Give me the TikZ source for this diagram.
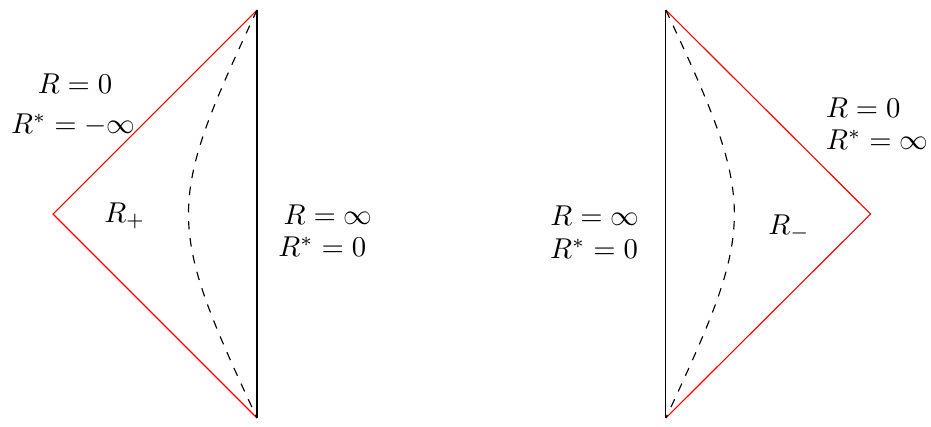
\documentclass[tikz,border=0pt]{standalone}
\usepackage{amsmath,amssymb}
\usepackage{tikz}
\usetikzlibrary{positioning}

\begin{document}
\begin{tikzpicture}[
    horizon/.style={
        draw=red,
        line width=0.4pt,
    },
    boundary/.style={
        draw=black,
        line width=0.4pt,
    },
    slice/.style={
        dashed,
        line width=0.4pt,
    },
    lbl/.style={
        inner sep=0pt,
    },
]
\useasboundingbox (0,0) rectangle (11.41,5.233);

% left patch
\coordinate (ltop) at (3.15,5.11);
\coordinate (lleft) at (0.65,2.61);
\coordinate (lbot) at (3.15,0.11);

\draw[horizon] (ltop) -- (lleft) -- (lbot);
\draw[boundary] (ltop) -- (lbot);
\draw[slice] (ltop) .. controls (2.03,2.72) and (2.03,2.50) .. (lbot);

\node[lbl] (lrzero) at (0.92,4.21) {$R=0$};
\node[lbl] (lrsinf) at (0.90,3.70) {$R^{*}=-\infty$};
\node[lbl] (lrplus) at (1.53,2.59) {$R_{+}$};
\node[lbl] (lrinf) at (4.02,2.60) {$R=\infty$};
\node[lbl] (lrszero) at (3.95,2.21) {$R^{*}=0$};

% right patch
\coordinate (rtop) at (8.16,5.11);
\coordinate (rright) at (10.67,2.61);
\coordinate (rbot) at (8.16,0.11);

\draw[horizon] (rtop) -- (rright) -- (rbot);
\draw[boundary] (rtop) -- (rbot);
\draw[slice] (rtop) .. controls (9.28,2.72) and (9.28,2.50) .. (rbot);

\node[lbl] (rrinf) at (7.29,2.59) {$R=\infty$};
\node[lbl] (rrszero) at (7.28,2.18) {$R^{*}=0$};
\node[lbl] (rrminus) at (9.67,2.44) {$R_{-}$};
\node[lbl] (rrzero) at (10.58,3.91) {$R=0$};
\node[lbl] (rrsinf) at (10.75,3.52) {$R^{*}=\infty$};
\end{tikzpicture}
\end{document}
